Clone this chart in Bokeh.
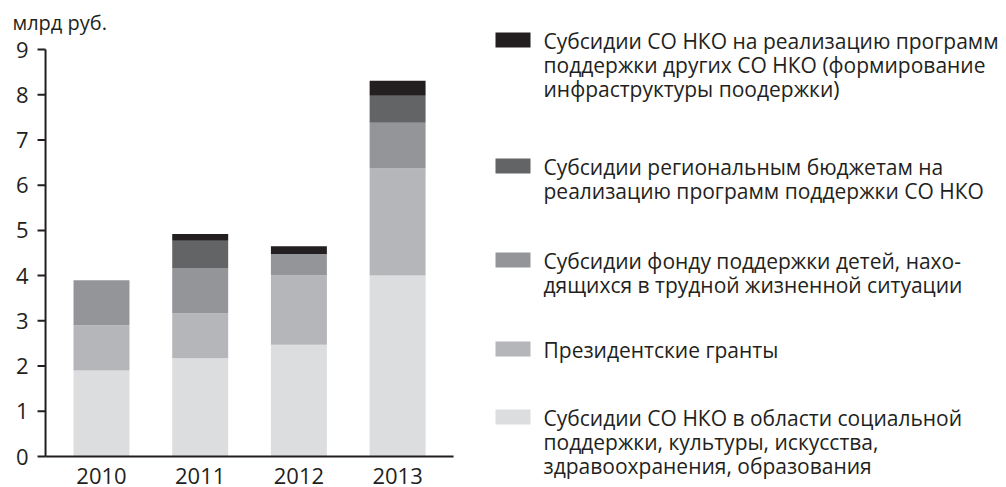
from bokeh.plotting import figure
from bokeh.models import Range1d, ColumnDataSource
from bokeh.core.properties import value
from bokeh.embed import file_html
from bokeh.resources import INLINE

years = [2010, 2011, 2012, 2013]
light = [1.9, 2.17, 2.47, 4.0]
grants = [1.0, 1.0, 1.53, 2.37]
fund = [1.0, 1.0, 0.48, 1.01]
regional = [0.0, 0.6, 0.0, 0.6]
infra = [0.0, 0.15, 0.17, 0.33]
y_ticks = [0, 1, 2, 3, 4, 5, 6, 7, 8, 9]
year_labels = [str(y) for y in years]
unit_label = "млрд руб."

series_names = ["light", "grants", "fund", "regional", "infra"]
colors = ["#dcdddf", "#b5b6b9", "#939598", "#636466", "#231f20"]

legend_items = [
    (["Субсидии СО НКО на реализацию программ",
      "поддержки других СО НКО (формирование",
      "инфраструктуры поодержки)"], "#231f20"),
    (["Субсидии региональным бюджетам на",
      "реализацию программ поддержки СО НКО"], "#636466"),
    (["Субсидии фонду поддержки детей, нахо-",
      "дящихся в трудной жизненной ситуации"], "#939598"),
    (["Президентские гранты"], "#b5b6b9"),
    (["Субсидии СО НКО в области социальной",
      "поддержки, культуры, искусства,",
      "здравоохранения, образования"], "#dcdddf"),
]

FONT = "Open Sans"
TXT = "#231f20"
W, H = 1000, 487
PX_PER_YEAR = 98.7
PX_PER_UNIT = 45.22
FIRST_X = 101      # pixel centre of first bar
ZERO_Y = 456       # pixel of value 0
PAD = 0.567        # axis-to-first-bar-centre, in years
BAR_W = 0.567

x_range = Range1d(years[0] - FIRST_X / PX_PER_YEAR,
                  years[0] + (W - FIRST_X) / PX_PER_YEAR)
y_range = Range1d(-(H - ZERO_Y) / PX_PER_UNIT, ZERO_Y / PX_PER_UNIT)

src = ColumnDataSource(dict(x=years, light=light, grants=grants, fund=fund,
                            regional=regional, infra=infra))

p = figure(width=W, height=H, output_backend="svg", toolbar_location=None,
           x_range=x_range, y_range=y_range, x_axis_location=None,
           y_axis_location=None, min_border=0, min_border_left=0,
           min_border_right=0, min_border_top=0, min_border_bottom=0)
p.extra_x_ranges = {"px": Range1d(0, W)}
p.extra_y_ranges = {"px": Range1d(H, 0)}
p.outline_line_color = None
p.grid.visible = False

p.vbar_stack(series_names, x="x", width=BAR_W, color=colors,
             line_color=None, source=src)

ax_x = years[0] - PAD
ax_right = years[-1] + PAD
tick_len = 8 / PX_PER_YEAR

# x axis line and year labels
p.segment(x0=[ax_x], y0=[y_ticks[0]], x1=[ax_right], y1=[y_ticks[0]],
          line_color=TXT, line_width=2)
p.text(x=years, y=[y_ticks[0]] * len(years), text=year_labels,
       text_font=value(FONT), text_font_size="22px", text_color=TXT,
       text_align="center", text_baseline="middle", y_offset=19)

# y axis line, ticks, labels
p.segment(x0=[ax_x], y0=[y_ticks[0]], x1=[ax_x], y1=[y_ticks[-1]],
          line_color=TXT, line_width=2)
p.segment(x0=[ax_x - tick_len] * len(y_ticks), y0=y_ticks,
          x1=[ax_x] * len(y_ticks), y1=y_ticks, line_color=TXT, line_width=2)
p.text(x=[ax_x] * len(y_ticks), y=y_ticks, text=[str(t) for t in y_ticks],
       text_font=value(FONT), text_font_size="22px", text_color=TXT,
       text_align="right", text_baseline="middle", x_offset=-17, y_offset=0)

# unit label
p.text(x=[12], y=[22], text=[unit_label], text_font=value(FONT),
       text_font_size="20px", text_color=TXT, text_baseline="middle",
       text_align="left", x_range_name="px", y_range_name="px")

# legend
swatch_centres = [39.5, 165.5, 259.5, 348.5, 416.5]
line_gap = 24
sw_x, sw_y, sw_c = [], [], []
tx_x, tx_y, tx_t = [], [], []
for (lines, col), c in zip(legend_items, swatch_centres):
    sw_x.append(512.5)
    sw_y.append(c)
    sw_c.append(col)
    for i, t in enumerate(lines):
        tx_x.append(543)
        tx_y.append(c + 1 + i * line_gap)
        tx_t.append(t)
p.rect(x=sw_x, y=sw_y, width=35, height=15, fill_color=sw_c, line_color=None,
       x_range_name="px", y_range_name="px")
p.text(x=tx_x, y=tx_y, text=tx_t, text_font=value(FONT), text_font_size="21px",
       text_color=TXT, text_baseline="middle", text_align="left",
       x_range_name="px", y_range_name="px")

open("out.html", "w").write(file_html(p, INLINE))
